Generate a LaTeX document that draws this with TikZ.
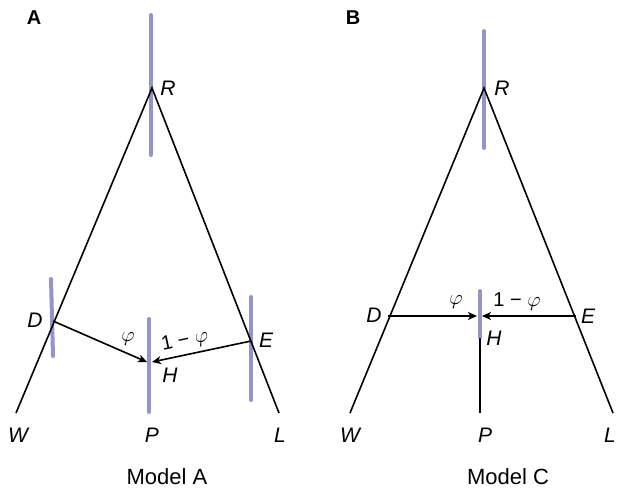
\documentclass[tikz,border=0pt]{standalone}
\usepackage{fontspec}
\setmainfont{Liberation Sans}
\usepackage{tikz}
\usetikzlibrary{arrows.meta}
\definecolor{lineage}{HTML}{9494CC}

\tikzset{
  branch/.style={black,line width=1.6pt},
  bar/.style={lineage,line width=4pt,line cap=round},
  flow/.style={branch,-{Stealth[length=9pt,width=8pt,inset=2.5pt]}},
  lbl/.style={font=\fontsize{21}{24}\selectfont\itshape},
  wlbl/.style={font=\fontsize{20}{24}\selectfont},
  panel/.style={font=\fontsize{20}{24}\selectfont\bfseries},
  caption/.style={font=\fontsize{22}{26}\selectfont,inner sep=1pt}
}

\begin{document}
\begin{tikzpicture}[x=1pt,y=-1pt]
\useasboundingbox (0,0) rectangle (617,491);

% Model A
\begin{scope}
  \coordinate (aR) at (152,88);
  \coordinate (aW) at (16,413);
  \coordinate (aL) at (279,413);
  \coordinate (aD) at (53,321);
  \coordinate (aE) at (251,341);
  \coordinate (aHl) at (147,362);
  \coordinate (aHr) at (152,362);
  \draw[bar] (151,15) -- (151,155);
  \draw[bar] (51,279) -- (53,356);
  \draw[bar] (251,297) -- (251,400);
  \draw[bar] (149,319) -- (149,412);
  \draw[branch] (aW) -- (aR) -- (aL);
  \draw[flow] (aD) -- (aHl);
  \draw[flow] (aE) -- (aHr);
  \node[panel] (aTag) at (34,18) {A};
  \node[lbl] (aRl) at (168,88) {R};
  \node[lbl] (aDl) at (35,320) {D};
  \node[lbl] (aEl) at (266,340) {E};
  \node[lbl] (aHlb) at (170,375) {H};
  \node[lbl] (aWl) at (18,435) {W};
  \node[lbl] (aPl) at (152,435) {P};
  \node[lbl] (aLl) at (280,435) {L};
  \node[wlbl] (aPhi) at (128,339) {$\varphi$};
  \node[wlbl,rotate=12] (aOne) at (185,341) {1 − $\varphi$};
  \node[caption] (aCap) at (167,477) {Model A};
\end{scope}

% Model C
\begin{scope}
  \coordinate (cR) at (484,88);
  \coordinate (cW) at (350,413);
  \coordinate (cL) at (613,413);
  \coordinate (cD) at (388,316);
  \coordinate (cE) at (576,316);
  \coordinate (cHl) at (477,316);
  \coordinate (cHr) at (482,316);
  \coordinate (cHb) at (480,338);
  \coordinate (cP) at (480,413);
  \draw[bar] (484,31) -- (484,148);
  \draw[bar] (480,291) -- (480,337);
  \draw[branch] (cW) -- (cR) -- (cL);
  \draw[branch] (cHb) -- (cP);
  \draw[flow] (cD) -- (cHl);
  \draw[flow] (cE) -- (cHr);
  \node[panel] (cTag) at (353,18) {B};
  \node[lbl] (cRl) at (502,88) {R};
  \node[lbl] (cDl) at (374,315) {D};
  \node[lbl] (cEl) at (588,316) {E};
  \node[lbl] (cHlb) at (494,338) {H};
  \node[lbl] (cWl) at (350,435) {W};
  \node[lbl] (cPl) at (485,435) {P};
  \node[lbl,inner sep=1pt] (cLl) at (610,435) {L};
  \node[wlbl] (cPhi) at (456,302) {$\varphi$};
  \node[wlbl] (cOne) at (517,302) {1 − $\varphi$};
  \node[caption] (cCap) at (508,477) {Model C};
\end{scope}
\end{tikzpicture}
\end{document}
